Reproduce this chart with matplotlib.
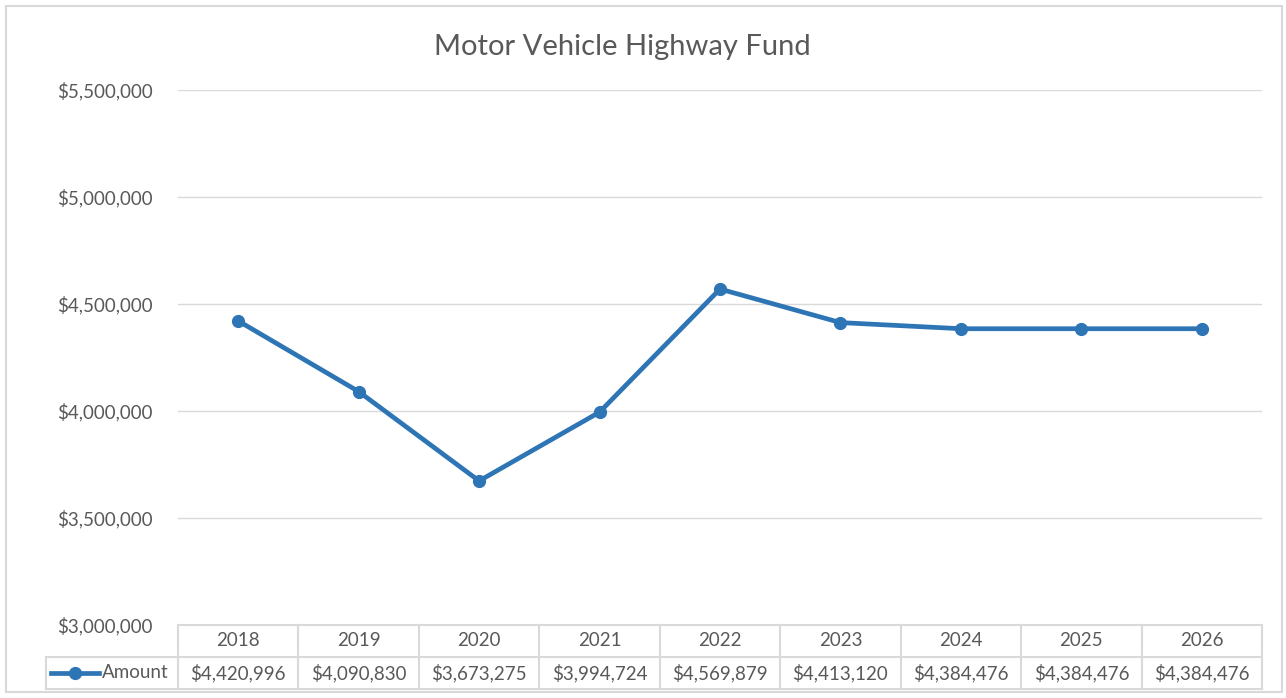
import matplotlib
matplotlib.use("Agg")
import matplotlib.pyplot as plt
from matplotlib.lines import Line2D
from matplotlib.patches import Rectangle

years = ["2018", "2019", "2020", "2021", "2022", "2023", "2024", "2025", "2026"]
amount = [4420996, 4090830, 3673275, 3994724, 4569879, 4413120, 4384476, 4384476, 4384476]
yticks = [3000000, 3500000, 4000000, 4500000, 5000000, 5500000]
series_name = "Amount"
title = "Motor Vehicle Highway Fund"

W, H = 1286, 698
blue = "#2E75B6"
grid = "#D9D9D9"
txt = "#595959"
fs = 13.5
plt.rcParams["font.family"] = ["Lato", "DejaVu Sans"]

fig = plt.figure(figsize=(W / 100, H / 100), dpi=100)

def fx(px):
    return px / W

def fy(py):
    return 1 - py / H

# outer chart frame
fig.patches.append(Rectangle((fx(6), fy(692)), fx(1276), 686 / H, transform=fig.transFigure,
                             fill=False, edgecolor=grid, linewidth=1.5))

left, right, top, bottom = 178, 1262, 90, 625
ax = fig.add_axes([fx(left), fy(bottom), fx(right - left), (bottom - top) / H])
x = list(range(len(years)))
ax.plot(x, amount, color=blue, linewidth=3.4, marker="o", markersize=8.5)
ax.set_xlim(-0.5, len(years) - 0.5)
ax.set_ylim(yticks[0], yticks[-1])
ax.set_yticks(yticks)
ax.set_yticklabels(["${:,}".format(v) for v in yticks], color=txt, fontsize=fs)
ax.set_xticks([])
ax.tick_params(axis="y", length=0, pad=18)
ax.grid(axis="y", color=grid, linewidth=1)
ax.set_axisbelow(True)
for s in ax.spines.values():
    s.set_visible(False)

fig.text(fx(622), fy(47), title, ha="center", va="center", fontsize=21, color=txt)

# data table
col_w = (right - left) / len(years)
r0, r1, r2 = 625, 657, 689
leg_l = 46
lines = []
lines.append(((left, right), (r0, r0)))
lines.append(((leg_l, right), (r1, r1)))
lines.append(((leg_l, right), (r2, r2)))
lines.append(((leg_l, leg_l), (r1, r2)))
for i in range(len(years) + 1):
    xp = left + i * col_w
    lines.append(((xp, xp), (r0, r2)))
for (xs, ys) in lines:
    fig.add_artist(Line2D([fx(xs[0]), fx(xs[1])], [fy(ys[0]), fy(ys[1])],
                          transform=fig.transFigure, color=grid, linewidth=1.5))
for i, (yr, v) in enumerate(zip(years, amount)):
    cx = left + (i + 0.5) * col_w
    fig.text(fx(cx), fy((r0 + r1) / 2), yr, ha="center", va="center", fontsize=fs, color=txt)
    fig.text(fx(cx), fy((r1 + r2) / 2), "${:,}".format(v), ha="center", va="center",
             fontsize=fs, color=txt)
# legend key
fig.add_artist(Line2D([fx(51), fx(99)], [fy(673), fy(673)], transform=fig.transFigure,
                      color=blue, linewidth=3.4))
fig.add_artist(Line2D([fx(75)], [fy(673)], transform=fig.transFigure, color=blue,
                      marker="o", markersize=8.5, linestyle="none"))
fig.text(fx(102), fy(673), series_name, ha="left", va="center", fontsize=fs, color=txt)

fig.savefig("out.png", dpi=100)
